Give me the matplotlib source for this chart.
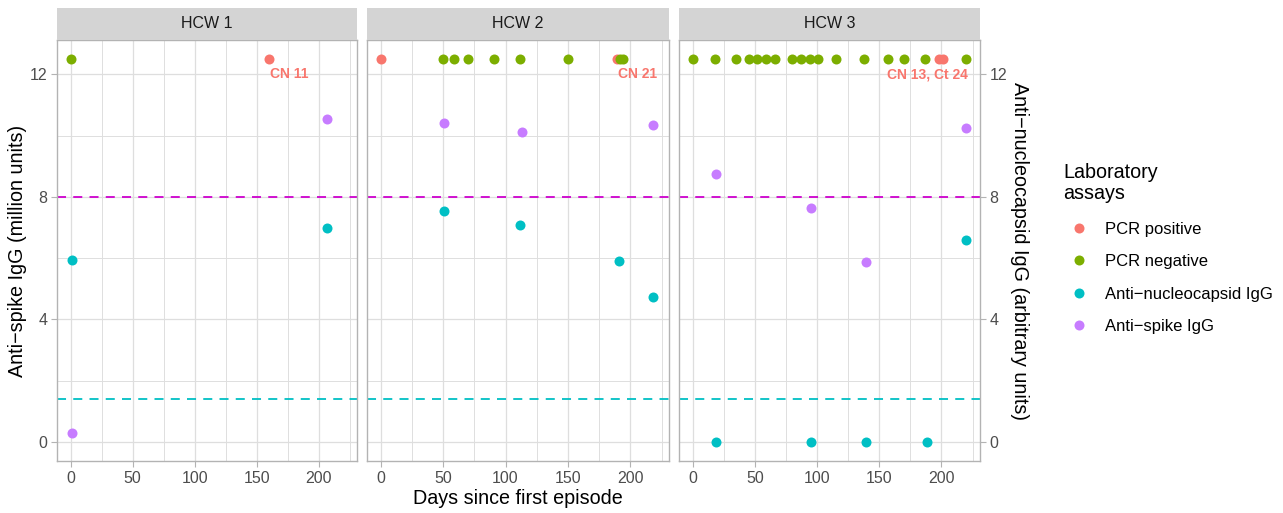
import matplotlib
matplotlib.use("Agg")
import matplotlib.pyplot as plt
from matplotlib.lines import Line2D

plt.rcParams['font.family'] = ['Liberation Sans', 'DejaVu Sans']

# ---- data ----
panels = ["HCW 1", "HCW 2", "HCW 3"]
pcr_pos_days = [[160], [0, 189], [198, 201]]
pcr_neg_days = [[0],
                [50, 59, 70, 91, 112, 150, 192, 194],
                [0, 18, 35, 45, 52, 59, 66, 80, 87, 94, 101, 115, 138, 157, 170, 187, 220]]
pcr_level = 12.5
n_days = [[1, 207], [51, 112, 191, 218], [19, 95, 139, 188, 220]]
n_vals = [[5.95, 6.99], [7.54, 7.09, 5.92, 4.72], [0, 0, 0, 0, 6.6]]
s_days = [[1, 207], [51, 113, 218], [19, 95, 139, 220]]
s_vals = [[0.29, 10.54], [10.43, 10.12, 10.34], [8.75, 7.64, 5.89, 10.25]]
pos_labels = ["CN 11", "CN 21", "CN 13, Ct 24"]
label_level = 12.0
spike_cutoff = 8.0
n_cutoff = 1.4
y_ticks = [0, 4, 8, 12]
x_ticks = [0, 50, 100, 150, 200]
legend_title = ["Laboratory", "assays"]
legend_labels = ["PCR positive", "PCR negative", "Anti\u2212nucleocapsid IgG", "Anti\u2212spike IgG"]

# ---- style ----
C_POS, C_NEG, C_N, C_S = "#F8766D", "#7CAE00", "#00BFC4", "#C77CFF"
C_MAG = "#CD00CD"
GRID = "#DEDEDE"
BORDER = "#B3B3B3"
TICKC = "#4D4D4D"

W, H = 1283, 513
fig = plt.figure(figsize=(W / 100, H / 100), dpi=100)

panel_px = [(57, 357), (367, 669), (679, 980)]
top_px, bot_px = 40, 461
strip_top = 8

xlim = (-11, 231)
ylim = (-0.625, 13.125)

axes = []
for i, (x0, x1) in enumerate(panel_px):
    ax = fig.add_axes([x0 / W, 1 - bot_px / H, (x1 - x0) / W, (bot_px - top_px) / H])
    axes.append(ax)
    ax.set_xlim(*xlim)
    ax.set_ylim(*ylim)
    ax.set_xticks(x_ticks)
    ax.set_xticks([25, 75, 125, 175, 225], minor=True)
    ax.set_yticks(y_ticks)
    ax.set_yticks([2, 6, 10], minor=True)
    ax.grid(which='major', color=GRID, lw=0.9, zorder=0)
    ax.grid(which='minor', color=GRID, lw=0.7, zorder=0)
    ax.set_axisbelow(True)
    for sp in ax.spines.values():
        sp.set_color(BORDER)
        sp.set_linewidth(1.0)
    ax.tick_params(which='minor', length=0)
    ax.tick_params(axis='x', which='major', length=4, color=BORDER, labelsize=11.5,
                   labelcolor=TICKC, pad=3)
    if i == 0:
        ax.tick_params(axis='y', which='major', length=4, color=BORDER, labelsize=11.5,
                       labelcolor=TICKC, pad=3)
    else:
        ax.tick_params(axis='y', which='major', length=0, labelleft=False)

    # thresholds
    ax.axhline(spike_cutoff, color=C_MAG, lw=1.3, ls=(0, (5, 4)), zorder=2)
    ax.axhline(n_cutoff, color=C_N, lw=1.3, ls=(0, (5, 4)), zorder=2)

    # points
    ms = 7.2
    ax.plot(pcr_pos_days[i], [pcr_level] * len(pcr_pos_days[i]), 'o', color=C_POS,
            ms=ms, mew=0, zorder=3)
    ax.plot(pcr_neg_days[i], [pcr_level] * len(pcr_neg_days[i]), 'o', color=C_NEG,
            ms=ms, mew=0, zorder=3)
    ax.plot(n_days[i], n_vals[i], 'o', color=C_N, ms=ms, mew=0, zorder=3)
    ax.plot(s_days[i], s_vals[i], 'o', color=C_S, ms=ms, mew=0, zorder=3)

    # PCR positive label
    if i < 2:
        ax.annotate(pos_labels[i], xy=(pcr_pos_days[i][-1], label_level),
                    xytext=(1, 0), textcoords='offset points',
                    ha='left', va='center', color=C_POS, fontsize=10, fontweight='bold')
    else:
        ax.annotate(pos_labels[i], xy=(pcr_pos_days[i][-1], label_level),
                    xytext=(18, 0), textcoords='offset points',
                    ha='right', va='center', color=C_POS, fontsize=10, fontweight='bold')

    # strip
    sax = fig.add_axes([x0 / W, 1 - top_px / H, (x1 - x0) / W, (top_px - strip_top) / H])
    sax.set_facecolor("#D4D4D4")
    sax.set_xticks([]); sax.set_yticks([])
    for sp in sax.spines.values():
        sp.set_visible(False)
    sax.text(0.5, 0.5, panels[i], ha='center', va='center', fontsize=11.5, color='#1A1A1A',
             transform=sax.transAxes)

# right axis on the last panel
rax = axes[2].twinx()
rax.set_ylim(*ylim)
rax.set_yticks(y_ticks)
rax.tick_params(axis='y', length=4, color=BORDER, labelsize=11.5, labelcolor=TICKC, pad=3)
for sp in rax.spines.values():
    sp.set_visible(False)

# axis titles
fig.text(18 / W, 1 - 250.5 / H, "Anti\u2212spike IgG (million units)", rotation=90,
         ha='center', va='center', fontsize=14.2)
fig.text(1020 / W, 1 - 250.5 / H, "Anti\u2212nucleocapsid IgG (arbitrary units)", rotation=270,
         ha='center', va='center', fontsize=14.2)
fig.text(518 / W, 1 - 498 / H, "Days since first episode", ha='center', va='center',
         fontsize=14.2)

# legend title
for line, base in zip(legend_title, (178.3, 199.3)):
    fig.text(1063 / W, 1 - base / H, line, ha='left', va='baseline', fontsize=14.2)

# legend entries
handles = [Line2D([], [], ls='none', marker='o', ms=7.2, mew=0, color=c)
           for c in (C_POS, C_NEG, C_N, C_S)]
leg = fig.legend(handles, legend_labels,
                 loc='upper left', bbox_to_anchor=(1051 / W, 1 - 207 / H),
                 frameon=False, fontsize=12, alignment='left',
                 labelspacing=1.04, handletextpad=0.83, handlelength=1.5)

fig.savefig("out.png", dpi=100)
